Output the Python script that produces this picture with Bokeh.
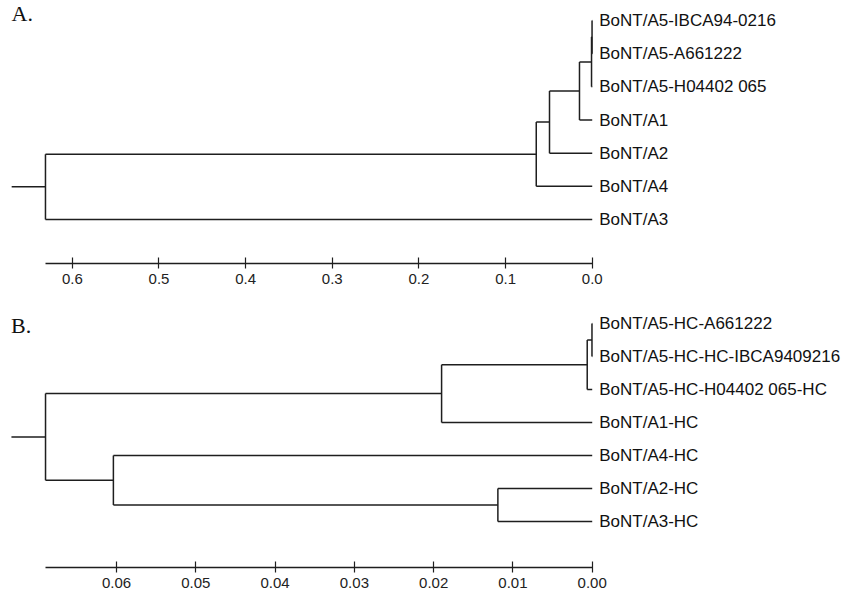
from bokeh.plotting import figure
from bokeh.layouts import column
from bokeh.models import Range1d, FixedTicker, Label, ColumnDataSource, LinearAxis, PrintfTickFormatter
from bokeh.embed import file_html
from bokeh.resources import INLINE
from bokeh.core.properties import value

# ---------------- data ----------------
# Panel A: leaves top -> bottom; merges reference leaf indices 0..6 and new nodes 7..
leaves_a = ["BoNT/A5-IBCA94-0216", "BoNT/A5-A661222", "BoNT/A5-H04402 065",
            "BoNT/A1", "BoNT/A2", "BoNT/A4", "BoNT/A3"]
merge_left_a = [0, 7, 8, 9, 10, 11]
merge_right_a = [1, 2, 3, 4, 5, 6]
merge_height_a = [0.0002, 0.0008, 0.0147, 0.0493, 0.0646, 0.631]
root_stub_a = 0.039
ticks_a = [0.6, 0.5, 0.4, 0.3, 0.2, 0.1, 0.0]

# Panel B
leaves_b = ["BoNT/A5-HC-A661222", "BoNT/A5-HC-HC-IBCA9409216", "BoNT/A5-HC-H04402 065-HC",
            "BoNT/A1-HC", "BoNT/A4-HC", "BoNT/A2-HC", "BoNT/A3-HC"]
merge_left_b = [0, 7, 8, 5, 4, 9]
merge_right_b = [1, 2, 3, 6, 10, 11]
merge_height_b = [0.00003, 0.00063, 0.0190, 0.0119, 0.0604, 0.06896]
root_stub_b = 0.0043
ticks_b = [0.06, 0.05, 0.04, 0.03, 0.02, 0.01, 0.0]

LINE = "#1e1e1e"


def tree_segments(leaves, left, right, heights, stub):
    xs = [0.0] * len(leaves)
    ys = [float(i + 1) for i in range(len(leaves))]
    x0, y0, x1, y1 = [], [], [], []
    for l, r, h in zip(left, right, heights):
        for c in (l, r):
            x0.append(xs[c]); y0.append(ys[c]); x1.append(h); y1.append(ys[c])
        x0.append(h); y0.append(ys[l]); x1.append(h); y1.append(ys[r])
        xs.append(h)
        ys.append((ys[l] + ys[r]) / 2.0)
    # root stub
    x0.append(xs[-1]); y0.append(ys[-1]); x1.append(xs[-1] + stub); y1.append(ys[-1])
    seg = ColumnDataSource(dict(x0=x0, y0=y0, x1=x1, y1=y1))
    lab = ColumnDataSource(dict(x=[0.0] * len(leaves), y=ys[:len(leaves)], text=leaves))
    return seg, lab, xs[-1]


def panel(leaves, left, right, heights, stub, ticks, fmt, xr, yr, h, bottom, letter, lx, ly):
    p = figure(width=845, height=h, output_backend="svg", toolbar_location=None,
               x_range=Range1d(*xr), y_range=Range1d(*yr),
               x_axis_location=None, y_axis_location=None,
               min_border_left=0, min_border_right=0, min_border_top=0,
               min_border_bottom=bottom)
    p.outline_line_color = None
    p.xgrid.visible = False
    p.ygrid.visible = False
    seg, lab, root = tree_segments(leaves, left, right, heights, stub)
    p.segment("x0", "y0", "x1", "y1", source=seg, line_color=LINE, line_width=1.5)
    p.text("x", "y", text="text", source=lab, x_offset=7, text_baseline="middle",
           text_font=value("Liberation Sans"), text_font_size="17px", text_color="#111111")
    ax = LinearAxis(ticker=FixedTicker(ticks=ticks), formatter=PrintfTickFormatter(format=fmt),
                    bounds=(0, root))
    ax.axis_line_color = LINE
    ax.axis_line_width = 1.4
    ax.major_tick_line_color = LINE
    ax.major_tick_line_width = 1.2
    ax.major_tick_in = 6
    ax.major_tick_out = 5
    ax.minor_tick_line_color = None
    ax.major_label_standoff = 5
    ax.major_label_text_font = "Liberation Sans"
    ax.major_label_text_font_size = "15px"
    ax.major_label_text_color = "#222222"
    p.add_layout(ax, "below")
    p.add_layout(Label(x=lx, y=ly, text=letter, text_font="Liberation Serif",
                       text_font_size="22px", text_baseline="alphabetic", text_color="#111111"))
    return p


pa = panel(leaves_a, merge_left_a, merge_right_a, merge_height_a, root_stub_a, ticks_a, "%.1f",
           (0.6829, -0.2923), (8.326, 0.397), 300, 37, "A.", 0.6702, 0.80)
pb = panel(leaves_b, merge_left_b, merge_right_b, merge_height_b, root_stub_b, ticks_b, "%.2f",
           (0.07464, -0.03195), (8.394, 0.303), 295, 28, "B.", 0.0733, 1.06)

layout = column(pa, pb, spacing=0)
open("out.html", "w").write(file_html(layout, INLINE))
